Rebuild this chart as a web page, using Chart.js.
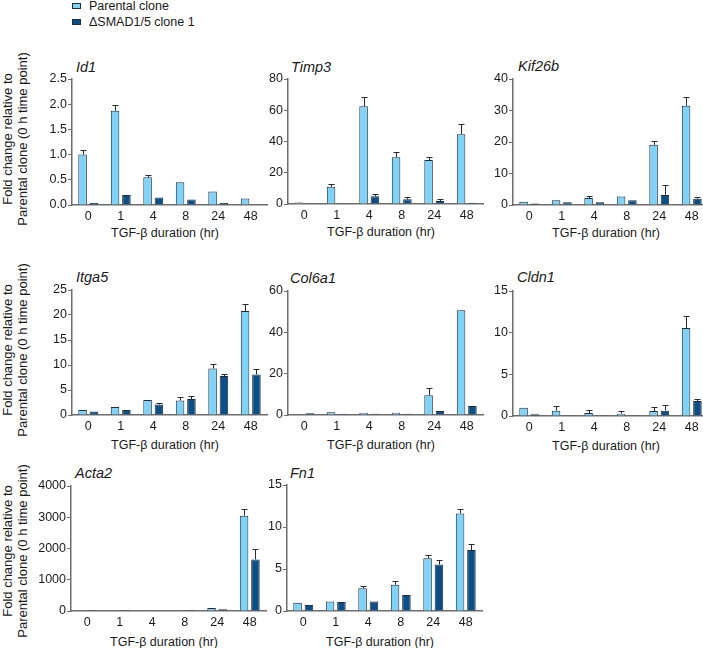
<!DOCTYPE html>
<html><head><meta charset="utf-8">
<script src="https://cdn.jsdelivr.net/npm/chart.js@4.4.1/dist/chart.umd.min.js"></script>
<style>
html,body{margin:0;padding:0;background:#fff;}
body{width:703px;height:648px;overflow:hidden;position:relative;font-family:"Liberation Sans",Arial,sans-serif;color:#1a1a1a;}
canvas{position:absolute;}
.gene{position:absolute;font-style:italic;font-size:14.5px;line-height:17px;white-space:nowrap;}
.ytitle{position:absolute;font-size:13px;line-height:14.5px;text-align:center;white-space:nowrap;transform:translate(-50%,-50%) rotate(-90deg);}
.xtitle{position:absolute;font-size:12.5px;line-height:15px;white-space:nowrap;transform:translate(-50%,-50%);}
.legbox{position:absolute;width:9px;height:6px;box-sizing:border-box;border:1px solid #1f2d3a;}
.legtxt{position:absolute;font-size:12.5px;line-height:14px;white-space:nowrap;}
</style></head>
<body>
<div class="legbox" style="left:72px;top:3px;background:#80d3f8"></div>
<div class="legtxt" style="left:89px;top:-1px">Parental clone</div>
<div class="legbox" style="left:72px;top:19px;background:#0c4f86"></div>
<div class="legtxt" style="left:89px;top:15px">ΔSMAD1/5 clone 1</div>

<script>
// ---- data ----
const timePoints = ['0', '1', '4', '8', '24', '48'];
const seriesNames = ['Parental clone', 'ΔSMAD1/5 clone 1'];

const id1Parental    = [1.00, 1.87, 0.55, 0.45, 0.27, 0.13];
const id1ParentalErr = [0.09, 0.12, 0.04, 0.03, 0.03, 0.00];
const id1Smad        = [0.04, 0.20, 0.15, 0.11, 0.04, 0.01];
const id1SmadErr     = [0.00, 0.01, 0.01, 0.03, 0.00, 0.00];

const timp3Parental    = [0.9, 11.0, 62.5, 29.9, 28.2, 44.6];
const timp3ParentalErr = [0.4, 2.0, 6.0, 3.2, 1.7, 6.6];
const timp3Smad        = [0.2, 0.5, 4.9, 3.0, 1.9, 0.8];
const timp3SmadErr     = [0.1, 0.2, 1.5, 1.5, 1.1, 0.3];

const kif26bParental    = [1.0, 1.5, 2.2, 2.7, 19.1, 31.5];
const kif26bParentalErr = [0.3, 0.4, 0.8, 0.5, 1.3, 2.8];
const kif26bSmad        = [0.5, 0.85, 0.85, 1.5, 3.2, 2.0];
const kif26bSmadErr     = [0.1, 0.15, 0.2, 0.2, 3.0, 0.6];

const itga5Parental    = [1.0, 1.6, 3.0, 2.9, 9.3, 20.8];
const itga5ParentalErr = [0.1, 0.1, 0.25, 0.7, 1.0, 1.4];
const itga5Smad        = [0.7, 1.0, 2.1, 3.2, 7.8, 8.1];
const itga5SmadErr     = [0.15, 0.1, 0.4, 0.6, 0.4, 1.2];

const col6a1Parental    = [0.3, 1.3, 1.1, 1.1, 9.6, 50.7];
const col6a1ParentalErr = [0.0, 0.5, 0.4, 0.2, 3.4, 0.7];
const col6a1Smad        = [0.8, 0.65, 0.6, 0.6, 1.9, 4.4];
const col6a1SmadErr     = [0.1, 0.1, 0.1, 0.1, 0.2, 0.5];

const cldn1Parental    = [1.0, 0.64, 0.36, 0.28, 0.6, 10.55];
const cldn1ParentalErr = [0.08, 0.56, 0.36, 0.28, 0.44, 1.4];
const cldn1Smad        = [0.2, 0.08, 0.04, 0.08, 0.64, 1.8];
const cldn1SmadErr     = [0.08, 0.0, 0.0, 0.0, 0.68, 0.3];

const acta2Parental    = [1, 2, 8, 5, 100, 3050];
const acta2ParentalErr = [0.2, 0.5, 2, 2, 12, 220];
const acta2Smad        = [0.5, 1, 5, 3, 55, 1650];
const acta2SmadErr     = [0.1, 0.2, 1, 1, 10, 320];

const fn1Parental    = [0.99, 1.14, 2.72, 3.12, 6.28, 11.6];
const fn1ParentalErr = [0.11, 0.16, 0.24, 0.51, 0.39, 0.6];
const fn1Smad        = [0.71, 1.07, 1.14, 1.9, 5.53, 7.26];
const fn1SmadErr     = [0.08, 0.08, 0.2, 0.08, 0.55, 0.71];

const geneNames = ['Id1', 'Timp3', 'Kif26b', 'Itga5', 'Col6a1', 'Cldn1', 'Acta2', 'Fn1'];
const yMaxes    = [2.5, 80, 40, 25, 60, 15, 4000, 15];
const yStepSizes = [0.5, 20, 10, 5, 20, 5, 1000, 5];
const yDecimals = [1, 0, 0, 0, 0, 0, 0, 0];
const xTitle = 'TGF-β duration (hr)';
const yTitleLines = ['Fold change relative to', 'Parental clone (0 h time point)'];

const panelData = [
  [id1Parental, id1ParentalErr, id1Smad, id1SmadErr],
  [timp3Parental, timp3ParentalErr, timp3Smad, timp3SmadErr],
  [kif26bParental, kif26bParentalErr, kif26bSmad, kif26bSmadErr],
  [itga5Parental, itga5ParentalErr, itga5Smad, itga5SmadErr],
  [col6a1Parental, col6a1ParentalErr, col6a1Smad, col6a1SmadErr],
  [cldn1Parental, cldn1ParentalErr, cldn1Smad, cldn1SmadErr],
  [acta2Parental, acta2ParentalErr, acta2Smad, acta2SmadErr],
  [fn1Parental, fn1ParentalErr, fn1Smad, fn1SmadErr]
];

// ---- layout / style ----
const layoutAxisX = [72, 288, 513, 72, 288, 513, 71, 287];
const layoutTop   = [79, 79, 79, 290, 291, 291, 486, 485];
const layoutBot   = [205, 204, 205, 415, 415, 416, 611, 611];
const layoutTitleOff = [28, 28, 28, 30, 30, 30, 31, 31];
const layoutGene = [[76, 72], [291, 72], [518, 71], [76, 282], [290, 283], [517, 282.5], [75, 478.3], [290, 478.3]];
const yTitleCenters = [139, 350, 551];
const CAT_W = 32.5, YW = 46, TOPPAD = 12, RIGHTPAD = 4, XH = 24;
const PARENT_FILL = '#80d3f8', SMAD_FILL = '#0c4f86', EDGE = '#1f2d3a', AXIS = '#6d6d6d', TXT = '#1a1a1a';
const FONT = '"Liberation Sans", Arial, sans-serif';

Chart.defaults.font.family = FONT;
Chart.defaults.color = TXT;

const errorBarPlugin = {
  id: 'errbars',
  afterDatasetsDraw(chart) {
    const ctx = chart.ctx;
    const yScale = chart.scales.y;
    ctx.save();
    ctx.strokeStyle = '#2a2a2a';
    ctx.lineWidth = 1;
    chart.data.datasets.forEach((ds, di) => {
      const meta = chart.getDatasetMeta(di);
      meta.data.forEach((bar, i) => {
        const e = ds.errors[i];
        if (!e) return;
        const yTop = Math.round(yScale.getPixelForValue(ds.data[i] + e)) + 0.5;
        const x = Math.round(bar.x) + 0.5;
        const y0 = bar.y;
        if (y0 - yTop < 1) return;
        ctx.beginPath();
        ctx.moveTo(x, y0);
        ctx.lineTo(x, yTop);
        ctx.moveTo(x - 3, yTop);
        ctx.lineTo(x + 3, yTop);
        ctx.stroke();
      });
    });
    ctx.restore();
  }
};

function addText(cls, html, left, top) {
  const d = document.createElement('div');
  d.className = cls;
  d.innerHTML = html;
  d.style.left = left + 'px';
  d.style.top = top + 'px';
  document.body.appendChild(d);
  return d;
}

yTitleCenters.forEach(cy => {
  addText('ytitle', yTitleLines.join('<br>'), 15, cy);
});

geneNames.forEach((g, k) => {
  const [gx, gb] = layoutGene[k];
  addText('gene', g, gx, gb - 13.5);
  addText('xtitle', xTitle, layoutAxisX[k] + 93, layoutBot[k] + layoutTitleOff[k]);

  const [par, parErr, smad, smadErr] = panelData[k];
  const chartH = layoutBot[k] - layoutTop[k];
  const chartW = CAT_W * timePoints.length;
  const cv = document.createElement('canvas');
  const W = Math.round(YW + chartW + RIGHTPAD);
  const H = TOPPAD + chartH + XH;
  cv.width = W; cv.height = H;
  cv.style.width = W + 'px'; cv.style.height = H + 'px';
  cv.style.left = (layoutAxisX[k] - YW) + 'px';
  cv.style.top = (layoutTop[k] - TOPPAD) + 'px';
  document.body.appendChild(cv);

  const dec = yDecimals[k];
  new Chart(cv, {
    type: 'bar',
    data: {
      labels: timePoints,
      datasets: [
        { label: seriesNames[0], data: par, errors: parErr, backgroundColor: PARENT_FILL, borderColor: EDGE, borderWidth: 1 },
        { label: seriesNames[1], data: smad, errors: smadErr, backgroundColor: SMAD_FILL, borderColor: EDGE, borderWidth: 1 }
      ]
    },
    options: {
      responsive: false,
      maintainAspectRatio: false,
      animation: false,
      devicePixelRatio: 1,
      categoryPercentage: 0.7,
      barPercentage: 0.75,
      layout: { padding: { top: TOPPAD, right: RIGHTPAD, left: 0, bottom: 0 } },
      plugins: { legend: { display: false }, tooltip: { enabled: false } },
      scales: {
        x: {
          offset: true,
          grid: { display: false, drawTicks: false, tickLength: 0 },
          border: { display: true, color: AXIS, width: 1.5 },
          ticks: { font: { size: 12.5 }, color: TXT, padding: 4, maxRotation: 0, autoSkip: false },
          afterFit(s) { s.height = XH; }
        },
        y: {
          min: 0, max: yMaxes[k],
          grid: { display: true, drawOnChartArea: false, drawTicks: true, tickLength: 4, color: AXIS, lineWidth: 1 },
          border: { display: true, color: AXIS, width: 1.5 },
          ticks: { stepSize: yStepSizes[k], font: { size: 12.5 }, color: TXT, padding: 1,
                   callback: v => Number(v).toFixed(dec) },
          afterFit(s) { s.width = YW; }
        }
      }
    },
    plugins: [errorBarPlugin]
  });
});
</script>
</body></html>
